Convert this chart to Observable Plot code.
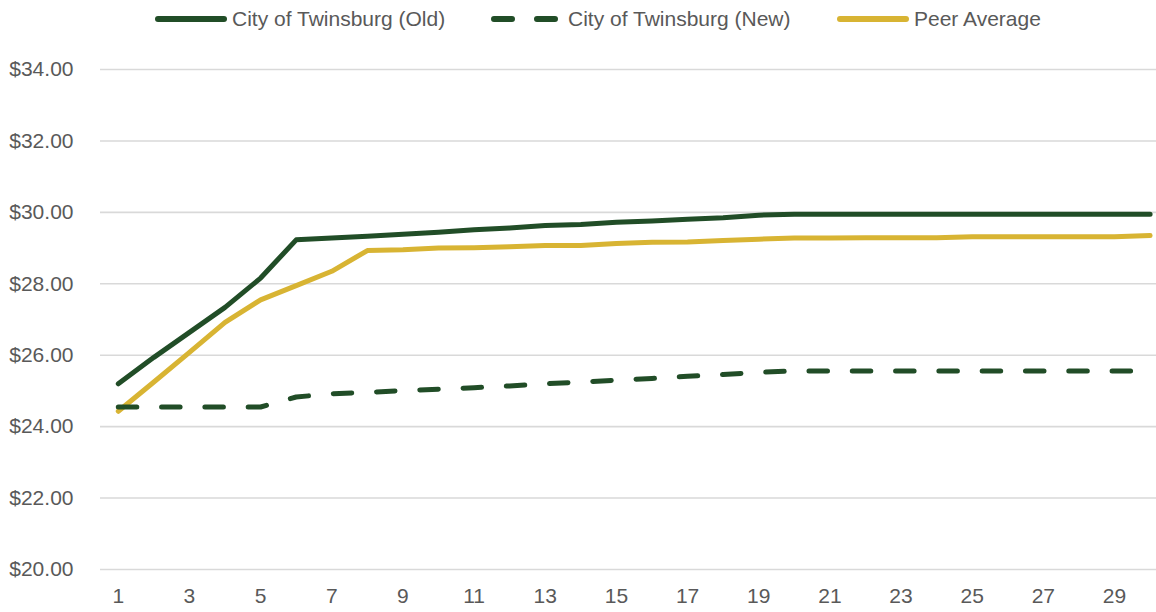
<!DOCTYPE html>
<html>
<head>
<meta charset="utf-8">
<script src="https://cdn.jsdelivr.net/npm/d3@7"></script>
<script src="https://cdn.jsdelivr.net/npm/@observablehq/plot@0.6"></script>
<style>
  html, body { margin: 0; padding: 0; background: #fff; }
  #wrap { width: 1156px; font-family: "Liberation Sans", Arial, sans-serif; color: #595959; }
  #legend { height: 38px; position: relative; font-size: 21px; }
  .item { position: absolute; top: 0; height: 38px; display: flex; align-items: center; white-space: nowrap; }
  .item svg { margin-right: 5px; }
</style>
</head>
<body>
<div id="wrap">
  <div id="legend"></div>
  <div id="chart"></div>
</div>
<script>
// ---- data ----
const periods = [1,2,3,4,5,6,7,8,9,10,11,12,13,14,15,16,17,18,19,20,21,22,23,24,25,26,27,28,29,30];
const twinsburgOld = [25.20,25.94,26.64,27.34,28.16,29.23,29.28,29.33,29.39,29.44,29.51,29.56,29.63,29.66,29.72,29.76,29.81,29.85,29.92,29.95,29.95,29.95,29.95,29.95,29.95,29.95,29.95,29.95,29.95,29.95];
const twinsburgNew = [24.55,24.55,24.55,24.55,24.55,24.83,24.92,24.96,25.01,25.05,25.09,25.14,25.20,25.25,25.30,25.35,25.41,25.46,25.52,25.56,25.56,25.56,25.56,25.56,25.56,25.56,25.56,25.56,25.56,25.56];
const peerAverage = [24.43,25.25,26.08,26.92,27.55,27.95,28.35,28.93,28.95,29.00,29.01,29.04,29.07,29.07,29.13,29.16,29.17,29.21,29.25,29.28,29.28,29.29,29.29,29.29,29.32,29.32,29.32,29.32,29.32,29.35];
const seriesNames = ["City of Twinsburg (Old)", "City of Twinsburg (New)", "Peer Average"];
const yTicks = [20,22,24,26,28,30,32,34];
const xTicks = [1,3,5,7,9,11,13,15,17,19,21,23,25,27,29];

const green = "#214d27";
const gold = "#d8b433";
const dash = "18.5,24.8";

const toRows = (vals, name) => periods.map((p, i) => ({period: p, value: vals[i], series: name}));
const oldRows = toRows(twinsburgOld, seriesNames[0]);
const newRows = toRows(twinsburgNew, seriesNames[1]);
const peerRows = toRows(peerAverage, seriesNames[2]);

const font = '"Liberation Sans", Arial, sans-serif';

const chart = Plot.plot({
  width: 1156,
  height: 574,
  marginLeft: 100,
  marginRight: 0,
  marginTop: 31,
  marginBottom: 43,
  style: {fontFamily: font, fontSize: "21px", color: "#595959", background: "#fff", overflow: "visible"},
  x: {type: "linear", domain: [0.5, 30.18], ticks: xTicks, tickFormat: d => String(d)},
  y: {domain: [20, 34], ticks: yTicks, tickFormat: d => "$" + d.toFixed(2)},
  marks: [
    Plot.ruleY(yTicks, {stroke: "#d9d9d9", strokeWidth: 1.6}),
    Plot.axisY({ticks: yTicks, tickSize: 0, tickPadding: 27, label: null, tickFormat: d => "$" + d.toFixed(2), fill: "#595959"}),
    Plot.axisX({ticks: xTicks, tickSize: 0, tickPadding: 19, label: null, tickFormat: d => String(d), fill: "#595959"}),
    Plot.line(peerRows, {x: "period", y: "value", stroke: gold, strokeWidth: 5, strokeLinejoin: "round", strokeLinecap: "round"}),
    Plot.line(newRows, {x: "period", y: "value", stroke: green, strokeWidth: 5, strokeDasharray: dash, strokeLinecap: "round", strokeLinejoin: "round"}),
    Plot.line(oldRows, {x: "period", y: "value", stroke: green, strokeWidth: 5, strokeLinejoin: "round", strokeLinecap: "round"})
  ]
});
document.getElementById("chart").appendChild(chart);

// ---- legend ----
const legendItems = [
  {name: seriesNames[0], color: green, dashed: false, left: 155},
  {name: seriesNames[1], color: green, dashed: true, left: 491},
  {name: seriesNames[2], color: gold, dashed: false, left: 837}
];
const legend = document.getElementById("legend");
for (const it of legendItems) {
  const div = document.createElement("div");
  div.className = "item";
  div.style.left = it.left + "px";
  const ns = "http://www.w3.org/2000/svg";
  const s = document.createElementNS(ns, "svg");
  s.setAttribute("width", 72); s.setAttribute("height", 10);
  const l = document.createElementNS(ns, "line");
  l.setAttribute("x1", 3); l.setAttribute("x2", 69); l.setAttribute("y1", 5); l.setAttribute("y2", 5);
  l.setAttribute("stroke", it.color); l.setAttribute("stroke-width", 6); l.setAttribute("stroke-linecap", "round");
  if (it.dashed) l.setAttribute("stroke-dasharray", "18,25");
  s.appendChild(l);
  div.appendChild(s);
  const t = document.createElement("span");
  t.textContent = it.name;
  div.appendChild(t);
  legend.appendChild(div);
}
</script>
</body>
</html>
